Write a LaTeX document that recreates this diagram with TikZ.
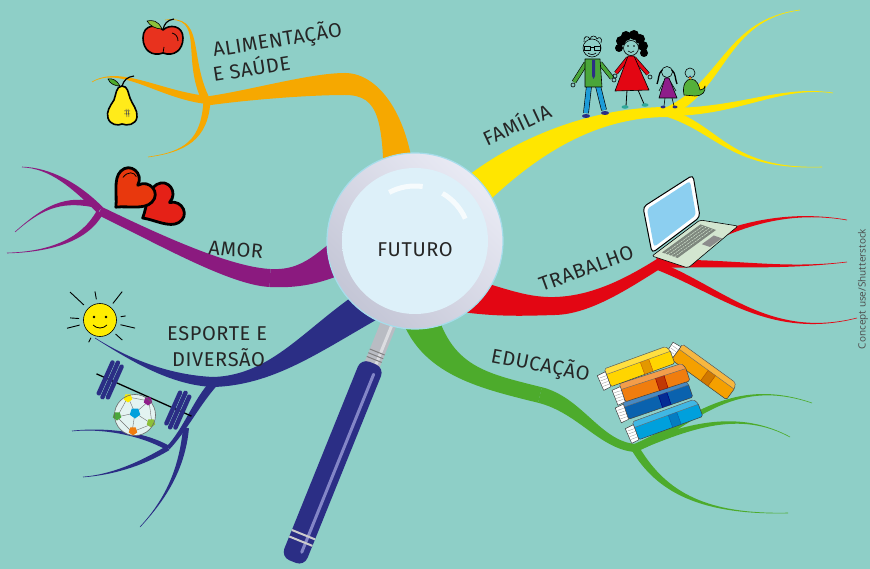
\documentclass[tikz,border=0pt]{standalone}
\usepackage{fontspec}
\newfontfamily\labfont[LetterSpace=3]{Fira Sans}
\newfontfamily\credfont{Open Sans}
\usetikzlibrary{calc}

\definecolor{sea}{HTML}{8ECFC7}
\definecolor{brOrange}{HTML}{F6A800}
\definecolor{brYellow}{HTML}{FFE600}
\definecolor{brPurple}{HTML}{8B1A7F}
\definecolor{brRed}{HTML}{E30613}
\definecolor{brNavy}{HTML}{2B2E85}
\definecolor{brGreen}{HTML}{4DAB2C}
\definecolor{ringLight}{HTML}{E9EAF4}
\definecolor{ringDark}{HTML}{C4C6D6}
\definecolor{ringEdge}{HTML}{A6DDEB}
\definecolor{lensIn}{HTML}{DDF0F9}
\definecolor{lensMid}{HTML}{C7D3DA}
\definecolor{lensRim}{HTML}{8A8E95}
\definecolor{lensEdge}{HTML}{55585E}
\definecolor{neckGrey}{HTML}{B9BCC3}
\definecolor{handleHi}{HTML}{9A9CD8}
\definecolor{appleRed}{HTML}{E8321E}
\definecolor{pearYellow}{HTML}{FFEB1A}
\definecolor{leafGreen}{HTML}{8DC03A}
\definecolor{heartRed}{HTML}{E52117}
\definecolor{heartOrange}{HTML}{E8380D}
\definecolor{sunYellow}{HTML}{FFED00}
\definecolor{manGreen}{HTML}{4AA63A}
\definecolor{pantsBlue}{HTML}{1D9BD7}
\definecolor{girlPurple}{HTML}{8E1D8A}
\definecolor{babyGreen}{HTML}{55B03A}
\definecolor{shoeTeal}{HTML}{2FA89A}
\definecolor{screenBlue}{HTML}{8CCFF0}
\definecolor{baseGreen}{HTML}{D3E6D0}
\definecolor{keysGrey}{HTML}{7E877E}
\definecolor{bookYellow}{HTML}{FFD500}
\definecolor{bookOrange}{HTML}{F07D0E}
\definecolor{bookBlue}{HTML}{0A62AE}
\definecolor{bookSky}{HTML}{00A0DC}
\definecolor{bookAmber}{HTML}{F5A000}

\pgfdeclareradialshading{lensglass}{\pgfpoint{0bp}{0bp}}{color(0bp)=(lensIn); color(37bp)=(lensIn); color(44bp)=(lensMid); color(47.5bp)=(lensRim); color(50bp)=(lensEdge)}

% tapered branch: colour, start half-width, start, control 1, control 2, end, end half-width
\newcommand{\limb}[7]{%
  \fill[#1] ($(#3)!#2!90:(#4)$)
    .. controls ($(#4)!#2!-90:(#3)$) and ($(#5)!#7!90:(#6)$) .. ($(#6)!#7!-90:(#5)$)
    -- ($(#6)!#7!90:(#5)$)
    .. controls ($(#5)!#7!-90:(#6)$) and ($(#4)!#2!90:(#3)$) .. ($(#3)!#2!-90:(#4)$) -- cycle;}

% small pentagon patch on the ball
\newcommand{\pent}[4]{\fill[#3] (#1,#2) +(90:#4) -- +(162:#4) -- +(234:#4) -- +(306:#4) -- +(18:#4) -- cycle;}

% one book: x, y, angle, cover, band
\newcommand{\book}[5]{%
  \begin{scope}[shift={(#1,#2)}, rotate=#3]
    \fill[#4, draw=black!75, line width=.5pt, rounded corners=1.5pt] (-30,-10) -- (35,-10) -- (38,-5) -- (38,9) -- (-30,9) -- cycle;
    \fill[white, opacity=.25] (-30,-10) -- (35,-10) -- (38,-4) -- (-30,-4) -- cycle;
    \draw[black!60, line width=.4pt] (-30,-4) -- (38,-4);
    \fill[#5, opacity=.55] (6,-4) rectangle (15,9);
    \draw[#5, line width=.5pt] (6,-4) -- (6,9) (15,-4) -- (15,9);
    \fill[white, draw=black!75, line width=.5pt] (-39,-6) -- (-30,-7) -- (-30,9) -- (-38,10) -- cycle;
    \foreach \l in {-3,0,3,6} \draw[black!45, line width=.3pt] (-37.5,\l) -- (-31,\l);
  \end{scope}}

\tikzset{
  lab/.style={font=\labfont\fontsize{20}{22}\selectfont, text=black!85, inner sep=0pt},
  credit/.style={font=\credfont\fontsize{10}{12}\selectfont, text=black!70, inner sep=0pt},
  outline/.style={draw=black, line width=1.6pt, line join=round},
  pen/.style={draw=black, line width=.6pt, line join=round},
}

\begin{document}
\begin{tikzpicture}[x=1pt,y=-1pt]
  \fill[sea] (0,0) rectangle (870,569);
  \useasboundingbox (0,0) rectangle (870,569);

  % alimentacao
  \limb{brOrange}{4pt}{205,98}{185,55}{205,15}{165,20}{0.3pt}
  \limb{brOrange}{4pt}{207,100}{160,95}{120,65}{92,82}{0.3pt}
  \limb{brOrange}{3.5pt}{207,100}{205,140}{185,152}{148,157}{0.3pt}
  \limb{brOrange}{16pt}{400,210}{400,120}{380,84}{345,84}{11pt}
  \limb{brOrange}{11pt}{345,84}{310,84}{250,95}{207,101}{4.5pt}

  % amor
  \limb{brPurple}{4pt}{100,210}{75,185}{50,168}{22,167}{0.3pt}
  \limb{brPurple}{3pt}{92,204}{60,198}{40,210}{15,232}{0.3pt}
  \limb{brPurple}{3.5pt}{100,212}{85,240}{50,252}{7,253}{0.3pt}
  \limb{brPurple}{20pt}{380,232}{330,262}{310,280}{270,278}{9pt}
  \limb{brPurple}{9pt}{270,278}{230,276}{160,240}{100,211}{4.5pt}

  % esporte
  \limb{brNavy}{17pt}{395,290}{320,330}{280,380}{213,382}{5pt}
  \limb{brNavy}{5pt}{213,382}{170,380}{130,360}{95,338}{0.3pt}
  \limb{brNavy}{4pt}{213,384}{195,405}{185,430}{168,448}{2pt}
  \limb{brNavy}{2.5pt}{168,448}{140,432}{100,428}{72,431}{0.3pt}
  \limb{brNavy}{2.5pt}{168,448}{140,465}{110,475}{83,477}{0.3pt}
  \limb{brNavy}{3pt}{186,428}{182,470}{165,500}{140,527}{0.3pt}

  % familia
  \limb{brYellow}{18pt}{440,225}{500,160}{580,112}{668,112}{5pt}
  \limb{brYellow}{5pt}{668,112}{725,85}{725,20}{800,10}{0.3pt}
  \limb{brYellow}{4pt}{668,112}{740,112}{780,85}{833,93}{0.3pt}
  \limb{brYellow}{4pt}{668,113}{720,130}{730,170}{822,167}{0.3pt}

  % trabalho
  \limb{brRed}{18pt}{440,290}{490,300}{520,307}{555,306}{9pt}
  \limb{brRed}{9pt}{555,306}{590,305}{625,285}{660,263}{5pt}
  \limb{brRed}{5pt}{658,262}{700,245}{760,205}{847,220}{0.3pt}
  \limb{brRed}{4pt}{658,264}{730,262}{780,270}{847,262}{0.3pt}
  \limb{brRed}{4pt}{658,266}{720,290}{770,340}{857,318}{0.3pt}

  % educacao
  \limb{brGreen}{18pt}{415,300}{430,370}{480,380}{540,395}{8pt}
  \limb{brGreen}{8pt}{540,395}{580,405}{600,445}{635,448}{4pt}
  \limb{brGreen}{4pt}{635,448}{690,425}{730,375}{812,403}{0.3pt}
  \limb{brGreen}{3.5pt}{635,448}{690,425}{740,410}{790,437}{0.3pt}
  \limb{brGreen}{4pt}{635,448}{660,490}{700,515}{788,513}{0.3pt}

  % magnifier handle and neck
  \begin{scope}[shift={(372,365)}, rotate=248]
    \fill[neckGrey] (-48,-8) rectangle (2,8);
    \fill[white, opacity=.5] (-48,-5) rectangle (2,-2);
    \foreach \g in {-14,-10,-6} \draw[black!50, line width=1pt] (\g,-8) -- (\g,8);
    \fill[brNavy, rounded corners=9pt] (-2,-12.5) rectangle (212,12.5);
    \draw[handleHi, line width=3pt, line cap=round, opacity=.8] (8,-5) -- (200,-5);
    \draw[black!20, line width=2pt] (183,-12.5) -- (183,12.5) (190,-12.5) -- (190,12.5);
  \end{scope}

  % lens
  \coordinate (lens) at (415,241);
  \shade[top color=ringLight, bottom color=ringDark, shading angle=-45] (lens) circle[radius=88];
  \draw[ringEdge, line width=1.2pt] (lens) circle[radius=88];
  \shade[shading=lensglass] (lens) circle[radius=73];
  \draw[white, line width=5pt, opacity=.75] ($(lens)+(-118:55)$) arc[start angle=-118, end angle=-82, radius=55];
  \draw[white, line width=5pt, opacity=.75] ($(lens)+(-60:55)$) arc[start angle=-60, end angle=-24, radius=55];
  \node[lab, anchor=base] (futuro) at (415,257) {FUTURO};

  % labels
  \node[lab, anchor=base west, rotate=9] (alim) at (214,57) {ALIMENTAÇÃO};
  \node[lab, anchor=base west, rotate=9] (saude) at (214,82) {E SAÚDE};
  \node[lab, anchor=base west, rotate=-5] (amor) at (208,254) {AMOR};
  \node[lab, anchor=base west] (esporte) at (167,341) {ESPORTE E};
  \node[lab, anchor=base west] (diversao) at (172,366) {DIVERSÃO};
  \node[lab, anchor=base west, rotate=25] (familia) at (487,147) {FAMÍLIA};
  \node[lab, anchor=base west, rotate=20] (trabalho) at (542,292) {TRABALHO};
  \node[lab, anchor=base west, rotate=-11] (educacao) at (490,362) {EDUCAÇÃO};
  \node[credit, rotate=90] (credit) at (863,289) {Concept use/Shutterstock};

  % apple
  \draw[outline, fill=appleRed] (163,30) .. controls (157,24) and (143,24) .. (143,38) .. controls (143,50) and (152,57) .. (163,53)
    .. controls (174,57) and (183,50) .. (183,38) .. controls (183,25) and (169,24) .. (163,30) -- cycle;
  \draw[black, line width=.8pt] (172,33) .. controls (176,34) and (178,37) .. (178,41);
  \draw[black, line width=.8pt] (163,53) -- (164,47);
  \fill[leafGreen, pen] (162,29) .. controls (158,20) and (152,20) .. (147,21) .. controls (150,26) and (156,29) .. (162,29);
  \draw[black, line width=1.2pt] (163,30) .. controls (164,24) and (167,20) .. (174,19);

  % pear
  \draw[outline, fill=pearYellow] (122,86) .. controls (116,86) and (116,95) .. (114,100) .. controls (110,106) and (106,112) .. (108,118)
    .. controls (110,125) and (118,126) .. (122,124) .. controls (127,126) and (136,125) .. (137,117)
    .. controls (138,110) and (132,104) .. (130,98) .. controls (128,93) and (128,86) .. (122,86) -- cycle;
  \fill[brGreen, pen] (120,86) .. controls (117,80) and (112,78) .. (108,79) .. controls (110,84) and (115,86) .. (120,86);
  \draw[black, line width=1.2pt] (122,86) .. controls (124,80) and (127,77) .. (134,76);
  \draw[black!70, line width=.5pt] (124,111) -- (130,111) (124,114) -- (130,114) (126,109) -- (127,117) (128,109) -- (129,117);

  % hearts
  \begin{scope}[shift={(160,208)}, rotate=-60]
    \draw[outline, line width=2.8pt, fill=heartRed] (0,20) .. controls (-8,10) and (-22,2) .. (-22,-9) .. controls (-22,-22) and (-4,-24) .. (0,-11)
      .. controls (4,-24) and (22,-22) .. (22,-9) .. controls (22,2) and (8,10) .. (0,20) -- cycle;
  \end{scope}
  \begin{scope}[shift={(130,193)}, rotate=-45]
    \draw[outline, line width=2.8pt, fill=heartOrange] (0,20) .. controls (-8,10) and (-22,2) .. (-22,-9) .. controls (-22,-22) and (-4,-24) .. (0,-11)
      .. controls (4,-24) and (22,-22) .. (22,-9) .. controls (22,2) and (8,10) .. (0,20) -- cycle;
    \draw[black, line width=.8pt] (-16,-6) .. controls (-17,-14) and (-12,-18) .. (-7,-16);
  \end{scope}

  % sun
  \foreach \a/\r/\R in {-137/22/41, -100/21/29, -52/21/36, -9/21/26, 13/21/36, 42/21/30, 166/21/34, -176/21/30, 117/20/25}
    \draw[black, line width=.9pt] ($(100,320)+(\a:\r)$) -- ($(100,320)+(\a:\R)$);
  \fill[sunYellow, pen] (100,320) circle[radius=16.5];
  \fill (94,317) circle[radius=1.3] (106,317) circle[radius=1.3];
  \draw[black, line width=.8pt] (93,325) .. controls (97,329) and (103,329) .. (107,325);

  % barbell
  \begin{scope}[shift={(144,395)}, rotate=-24]
    \draw[black, line width=1.3pt] (-52,0) -- (52,0);
    \foreach \p/\h in {-42/19, -37/21, -32/19, 32/19, 37/21, 42/19}
      \fill[brNavy, rounded corners=2pt] (\p-2.2,-\h) rectangle (\p+2.2,\h);
  \end{scope}

  % ball
  \fill[white!75!sea] (135,415) circle[radius=20.5];
  \foreach \x/\y in {128/397, 149/401, 117/417, 152/424, 132/432}
    \draw[black!55, line width=.4pt] (135,413) -- (\x,\y);
  \draw[black!55, line width=.4pt] (128,397) -- (149,401) -- (152,424) -- (132,432) -- (117,417) -- cycle;
  \pent{135}{413}{bookSky}{5.5}
  \pent{128}{398}{sunYellow}{4.5}
  \pent{148}{401}{girlPurple}{4.5}
  \pent{117}{416}{manGreen}{4.5}
  \pent{151}{423}{leafGreen}{4.5}
  \pent{133}{431}{bookOrange}{4.5}
  \draw[black!60, line width=.6pt] (135,415) circle[radius=20.5];

  % family: father
  \draw[black, line width=.6pt] (584,42) .. controls (583,36) and (588,35) .. (590,39) .. controls (591,35) and (596,35) .. (597,39) .. controls (599,36) and (603,38) .. (601,43);
  \draw[pen] (592,48) circle[radius=9];
  \draw[pen] (584,46) rectangle (590,50) (594,46) rectangle (600,50) (590,47.5) -- (594,47.5);
  \draw[pen] (588,53) .. controls (590,55) and (594,55) .. (596,53);
  \draw[double=manGreen, double distance=3.5pt, line width=.6pt] (586,63) -- (574,82) (600,63) -- (612,78);
  \draw[pen] (573,85) circle[radius=2] (614,80) circle[radius=2];
  \draw[double=pantsBlue, double distance=4.5pt, line width=.6pt] (589,86) -- (586,113) (598,86) -- (604,110);
  \fill[manGreen, pen] (585,59) -- (600,59) -- (602,87) -- (585,87) -- cycle;
  \fill[brNavy] (592,60) -- (595,60) -- (595,76) -- (593.5,79) -- (592,76) -- cycle;
  \fill[brNavy] (586,116) ellipse[x radius=4, y radius=2] (605,113) ellipse[x radius=4, y radius=2];

  % mother
  \foreach \x/\y/\r in {621/41/5, 626/36/5, 634/35/5, 640/39/5, 643/46/5, 619/48/4, 644/53/4}
    \fill[black] (\x,\y) circle[radius=\r];
  \fill[sea, pen] (631,48) circle[radius=7.5];
  \fill (628,46) circle[radius=.9] (634,46) circle[radius=.9];
  \draw[pen] (628,51) .. controls (630,53) and (632,53) .. (634,51);
  \draw[double=brRed, double distance=3pt, line width=.6pt] (628,58) -- (616,73) (634,58) -- (648,74);
  \draw[pen] (615,76) circle[radius=2] (650,77) circle[radius=2];
  \draw[black, line width=.8pt] (627,90) -- (626,106) (638,90) -- (644,104);
  \fill[brRed, pen] (628,56) -- (634,56) -- (649,90) -- (615,91) -- cycle;
  \fill[shoeTeal] (625,107) ellipse[x radius=3.5, y radius=1.8] (645,105) ellipse[x radius=3.5, y radius=1.8];

  % daughter
  \draw[black, line width=1.3pt] (662,70) .. controls (658,74) and (659,79) .. (657,84) (672,70) .. controls (676,74) and (675,79) .. (677,84);
  \draw[pen] (667,72) circle[radius=5.5];
  \draw[black, line width=.6pt] (664,81) -- (659,91) (670,81) -- (676,91) (665,98) -- (664,106) (672,98) -- (674,106);
  \fill[girlPurple, pen] (665,78) -- (669,78) -- (677,98) -- (659,98) -- cycle;
  \fill[brNavy] (663,107) ellipse[x radius=2.5, y radius=1.4] (675,107) ellipse[x radius=2.5, y radius=1.4];

  % baby
  \fill[babyGreen, pen] (684,95) .. controls (682,85) and (686,79) .. (691,79) .. controls (697,79) and (699,86) .. (700,90)
    .. controls (703,90) and (705,88) .. (705,86) .. controls (706,92) and (702,96) .. (695,96) -- cycle;
  \draw[pen] (690,73) circle[radius=5];
  \fill[bookOrange] (690,78) circle[radius=1.5];
  \fill[brNavy] (690,76.5) circle[radius=1];

  % laptop
  \draw[line width=1pt, fill=white, rounded corners=4pt] (643,207) -- (693,175) -- (700,217) -- (652,253) -- cycle;
  \fill[screenBlue, rounded corners=3pt] (647,209) -- (690,181) -- (696,215) -- (654,247) -- cycle;
  \draw[line width=.6pt, fill=baseGreen, rounded corners=2pt] (652,256) -- (700,220) -- (738,226) -- (688,268) -- cycle;
  \fill[keysGrey] (662,252.4) -- (700.5,224.4) -- (716,230) -- (677.6,258) -- cycle;
  \foreach \t in {0.2,0.4,0.6,0.8}
    \draw[baseGreen, line width=.5pt, dash pattern=on 2pt off .8pt] ($(662,252.4)!\t!(677.6,258)$) -- ($(700.5,224.4)!\t!(716,230)$);
  \fill[black!45] (701.8,244.2) -- (713.8,235.5) -- (722,238.4) -- (710,247) -- cycle;

  % books
  \book{701}{370}{-36}{bookAmber}{orange!70!black}
  \book{664}{421}{20}{bookSky}{bookBlue}
  \book{654}{401}{19}{bookBlue}{blue!50!black}
  \book{651}{384}{18}{bookOrange}{red!60!black}
  \book{636}{368}{20}{bookYellow}{orange!80!black}
\end{tikzpicture}
\end{document}
